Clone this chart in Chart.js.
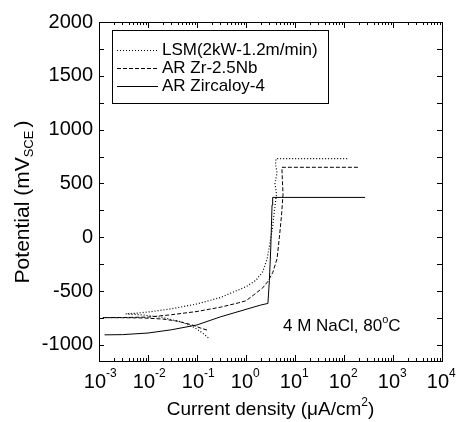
<!DOCTYPE html>
<html>
<head>
<meta charset="utf-8">
<script src="https://cdn.jsdelivr.net/npm/chart.js@4.4.0/dist/chart.umd.min.js"></script>
<style>
  html, body { margin: 0; padding: 0; background: #fff; }
</style>
</head>
<body>
<canvas id="polChart" width="458" height="422"></canvas>
<script>
// Series names (legend order)
const seriesNames = ["LSM(2kW-1.2m/min)", "AR Zr-2.5Nb", "AR Zircaloy-4"];

// LSM (dotted) : current density (uA/cm2) and potential (mV SCE), in scan order
const lsmI = [0.17, 0.13, 0.09, 0.05, 0.02, 0.008, 0.0035, 0.006, 0.01, 0.03, 0.1, 0.3, 1.0, 1.6, 2.2, 2.7, 3.1, 3.5, 3.8, 4.2, 3.9, 4.3, 4.0, 4.1, 120];
const lsmE = [-935, -890, -840, -790, -745, -722, -712, -705, -695, -665, -620, -560, -460, -400, -320, -200, -50, 100, 250, 400, 500, 600, 680, 730, 730];

// AR Zr-2.5Nb (dashed)
const zrNbI = [0.16, 0.12, 0.08, 0.04, 0.02, 0.008, 0.003, 0.0012, 0.003, 0.01, 0.03, 0.1, 0.3, 0.7, 1.0, 1.4, 2.2, 2.8, 3.5, 4.3, 4.8, 5.3, 5.7, 5.5, 5.4, 195];
const zrNbE = [-862, -845, -815, -780, -760, -750, -748, -747, -746, -742, -720, -690, -650, -610, -590, -540, -470, -410, -330, -200, 0, 200, 400, 550, 650, 650];

// AR Zircaloy-4 (solid)
const zry4I = [0.0013, 0.003, 0.01, 0.03, 0.1, 0.3, 1, 2, 2.8, 3.0, 3.2, 3.3, 3.4, 3.5, 270];
const zry4E = [-907, -905, -890, -860, -815, -740, -670, -630, -615, -400, -100, 100, 300, 370, 370];

// Axis ticks
const yTicks = [-1000, -500, 0, 500, 1000, 1500, 2000];
const xDecades = [-3, -2, -1, 0, 1, 2, 3, 4];

const FONT = "'Liberation Sans', Arial, sans-serif";

function toPoints(xs, ys) {
  return xs.map((x, i) => ({ x: x, y: ys[i] }));
}

// Frame, inward ticks, labels, legend and note
const decorPlugin = {
  id: "decor",
  afterDatasetsDraw(chart) {
    const ctx = chart.ctx;
    const area = chart.chartArea;
    const xs = chart.scales.x;
    const ys = chart.scales.y;
    ctx.save();
    ctx.strokeStyle = "#000";
    ctx.fillStyle = "#000";
    ctx.lineWidth = 1;

    // frame
    ctx.strokeRect(Math.round(area.left) + 0.5, Math.round(area.top) + 0.5,
      Math.round(area.right - area.left), Math.round(area.bottom - area.top));

    // y ticks every 250, both sides
    ctx.beginPath();
    for (let v = -1000; v <= 2000; v += 250) {
      const py = Math.round(ys.getPixelForValue(v)) + 0.5;
      ctx.moveTo(area.left, py); ctx.lineTo(area.left + 5, py);
      ctx.moveTo(area.right, py); ctx.lineTo(area.right - 5, py);
    }
    // x ticks (log), bottom and top
    for (let d = -3; d <= 4; d++) {
      for (let m = 1; m <= 9; m++) {
        if (d === 4 && m > 1) break;
        const px = Math.round(xs.getPixelForValue(m * Math.pow(10, d))) + 0.5;
        const len = m === 1 ? 6 : 3;
        ctx.moveTo(px, area.bottom); ctx.lineTo(px, area.bottom - len);
        ctx.moveTo(px, area.top); ctx.lineTo(px, area.top + len);
      }
    }
    ctx.stroke();

    // y tick labels
    ctx.font = "20px " + FONT;
    ctx.textAlign = "right";
    ctx.textBaseline = "middle";
    yTicks.forEach(v => {
      ctx.fillText(String(v), area.left - 6, ys.getPixelForValue(v));
    });

    // x tick labels 10^n
    xDecades.forEach(d => {
      const px = xs.getPixelForValue(Math.pow(10, d));
      ctx.font = "20px " + FONT;
      ctx.textAlign = "right";
      ctx.textBaseline = "alphabetic";
      ctx.fillText("10", px + 7, area.bottom + 27);
      ctx.font = "12px " + FONT;
      ctx.textAlign = "left";
      ctx.fillText(String(d), px + 7, area.bottom + 16);
    });

    // x title
    ctx.font = "19px " + FONT;
    ctx.textAlign = "left";
    const t1 = "Current density (\u03BCA/cm";
    const t2 = ")";
    const w1 = ctx.measureText(t1).width;
    ctx.font = "12px " + FONT;
    const wsup = ctx.measureText("2").width;
    ctx.font = "19px " + FONT;
    const w2 = ctx.measureText(t2).width;
    let sx = (area.left + area.right) / 2 - (w1 + wsup + w2) / 2;
    const by = area.bottom + 54;
    ctx.fillText(t1, sx, by);
    ctx.font = "12px " + FONT;
    ctx.fillText("2", sx + w1, by - 9);
    ctx.font = "19px " + FONT;
    ctx.fillText(t2, sx + w1 + wsup, by);

    // y title (rotated)
    ctx.save();
    ctx.translate(29, 202);
    ctx.rotate(-Math.PI / 2);
    ctx.font = "21px " + FONT;
    const a1 = "Potential (mV";
    const aw1 = ctx.measureText(a1).width;
    ctx.font = "13px " + FONT;
    const aw2 = ctx.measureText("SCE").width;
    ctx.font = "21px " + FONT;
    const aw3 = ctx.measureText(")").width;
    let ax = -(aw1 + aw2 + aw3 + 3) / 2;
    ctx.textAlign = "left";
    ctx.fillText(a1, ax, 0);
    ctx.font = "13px " + FONT;
    ctx.fillText("SCE", ax + aw1, 4);
    ctx.font = "21px " + FONT;
    ctx.fillText(")", ax + aw1 + aw2 + 3, 0);
    ctx.restore();

    // note
    ctx.font = "17px " + FONT;
    ctx.textAlign = "left";
    const n1 = "4 M NaCl, 80";
    const nw1 = ctx.measureText(n1).width;
    ctx.fillText(n1, 283, 331);
    ctx.font = "11px " + FONT;
    const nw2 = ctx.measureText("o").width;
    ctx.fillText("o", 283 + nw1, 323);
    ctx.font = "17px " + FONT;
    ctx.fillText("C", 283 + nw1 + nw2, 331);

    // legend box
    ctx.fillStyle = "#fff";
    ctx.fillRect(112.5, 30.5, 216, 73);
    ctx.strokeRect(112.5, 30.5, 216, 73);
    ctx.fillStyle = "#000";
    ctx.font = "17px " + FONT;
    ctx.textBaseline = "middle";
    const dashes = [[1, 2], [4, 2], []];
    seriesNames.forEach((name, i) => {
      const ly = 50 + i * 18 + 0.5;
      ctx.setLineDash(dashes[i]);
      ctx.beginPath();
      ctx.moveTo(117, ly); ctx.lineTo(158, ly);
      ctx.stroke();
      ctx.setLineDash([]);
      ctx.fillText(name, 162, ly);
    });
    ctx.restore();
  }
};

new Chart(document.getElementById("polChart"), {
  type: "scatter",
  data: {
    datasets: [
      {
        label: seriesNames[0],
        data: toPoints(lsmI, lsmE),
        borderColor: "#000",
        borderWidth: 1.2,
        borderDash: [1, 2],
        showLine: true,
        pointRadius: 0,
      },
      {
        label: seriesNames[1],
        data: toPoints(zrNbI, zrNbE),
        borderColor: "#000",
        borderWidth: 1,
        borderDash: [4, 2],
        showLine: true,
        pointRadius: 0,
      },
      {
        label: seriesNames[2],
        data: toPoints(zry4I, zry4E),
        borderColor: "#000",
        borderWidth: 1,
        showLine: true,
        pointRadius: 0,
      },
    ],
  },
  options: {
    responsive: false,
    animation: false,
    devicePixelRatio: 1,
    layout: { padding: { top: 22, right: 16, left: 0, bottom: 0 } },
    plugins: {
      legend: { display: false },
      tooltip: { enabled: false },
    },
    scales: {
      x: {
        type: "logarithmic",
        min: 1e-3,
        max: 1e4,
        ticks: { display: false },
        grid: { display: false },
        border: { display: false },
        afterFit: (s) => { s.height = 61; },
      },
      y: {
        type: "linear",
        min: -1150,
        max: 2000,
        ticks: { display: false },
        grid: { display: false },
        border: { display: false },
        afterFit: (s) => { s.width = 99; },
      },
    },
  },
  plugins: [decorPlugin],
});
</script>
</body>
</html>
